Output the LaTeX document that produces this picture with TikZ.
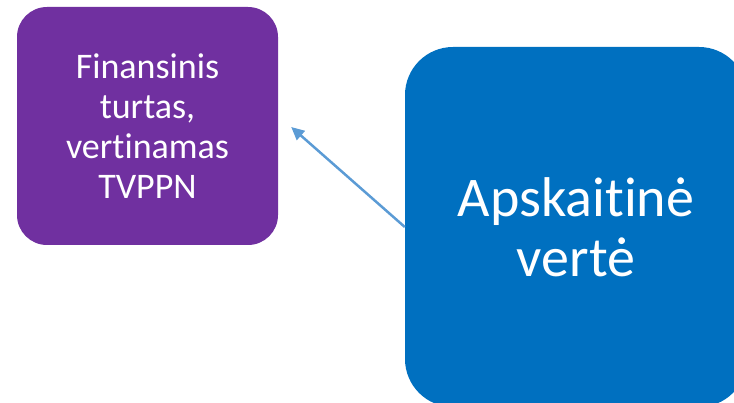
\documentclass[tikz,border=0pt]{standalone}
\usepackage{fontspec}
\setmainfont{Carlito}[RawFeature={-liga;-clig;-calt;-dlig}]
\usetikzlibrary{arrows.meta}
\definecolor{purplebox}{HTML}{7030A0}
\definecolor{bluebox}{HTML}{0070C0}
\definecolor{arrowblue}{HTML}{5B9BD5}
\newcommand\tnolig{t\kern0pt }
\tikzset{
  boxstyle/.style={draw=none, inner sep=0pt, text=white, align=center},
  connector/.style={draw=arrowblue, line width=2.5pt, -{Triangle[length=13pt,width=12pt]}}
}
\begin{document}
\begin{tikzpicture}[x=1pt,y=-1pt]
\useasboundingbox (0,0) rectangle (734,403);
\clip (0,0) rectangle (734,403);
\node[boxstyle, fill=purplebox, rounded corners=30pt, minimum width=261pt, minimum height=238pt,
  font=\fontsize{36}{40}\selectfont] (fin) at (147.5,126)
  {Finansinis\\turtas,\\ver\tnolig inamas\\TVPPN};
\node[boxstyle, fill=bluebox, rounded corners=48pt, minimum width=342pt, minimum height=360pt,
  font=\fontsize{56}{60}\selectfont] (apsk) at (576,227)
  {Apskai\tnolig inė\\vertė};
\coordinate (tip) at ([xshift=13pt,yshift=-1pt]fin.east);
\draw[connector] (apsk.west) -- (tip);
\end{tikzpicture}
\end{document}
